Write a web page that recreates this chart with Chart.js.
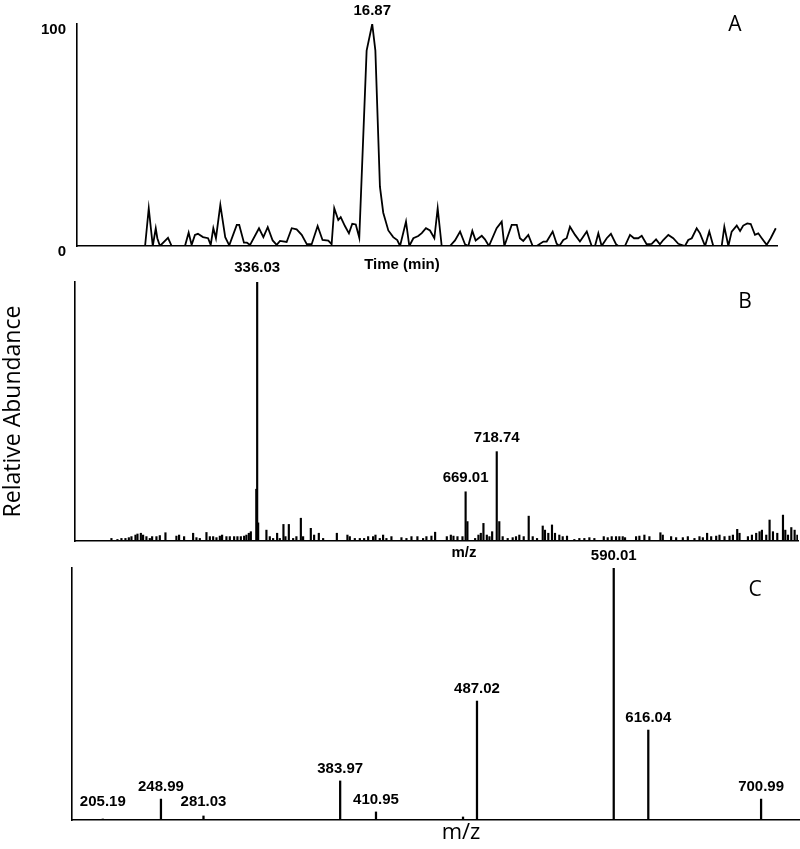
<!DOCTYPE html>
<html><head><meta charset="utf-8">
<script src="https://cdn.jsdelivr.net/npm/chart.js@4.4.1/dist/chart.umd.min.js"></script>
<style>
html,body{margin:0;padding:0;background:#fff;}
#wrap{position:relative;width:800px;height:849px;overflow:hidden;background:#fff;}
canvas{position:absolute;left:0;}
</style></head><body>
<div id="wrap">
<canvas id="cA" width="800" height="280" style="top:0px;width:800px;height:280px"></canvas>
<canvas id="cB" width="800" height="305" style="top:255px;width:800px;height:305px"></canvas>
<canvas id="cC" width="800" height="304" style="top:545px;width:800px;height:304px"></canvas>
</div>
<script>
// ---------- Panel A: chromatogram (time in min, relative intensity %) ----------
const aTime = [0, 3.89, 4.10, 4.33, 4.50, 4.59, 4.74, 5.20, 5.41, 6.17,
  6.38, 6.55, 6.74, 6.91, 7.20, 7.49, 7.64, 7.79, 7.94, 8.19,
  8.47, 8.70, 9.13, 9.27, 9.54, 9.71, 9.89, 10.40, 10.65, 10.90,
  11.18, 11.41, 11.60, 11.98, 12.27, 12.55, 12.84, 13.13, 13.41, 13.75,
  14.03, 14.36, 14.55, 14.70, 14.93, 15.07, 15.31, 15.54, 15.73, 15.93,
  16.13, 16.55, 16.87, 17.05, 17.31, 17.50, 17.79, 18.07, 18.30, 18.46,
  18.80, 18.99, 19.22, 19.50, 19.70, 19.94, 20.17, 20.42, 20.61, 20.84,
  21.31, 21.60, 21.89, 22.17, 22.36, 22.59, 22.78, 23.13, 23.31, 23.54,
  23.98, 24.27, 24.42, 24.84, 25.13, 25.31, 25.50, 25.79, 26.04, 26.27,
  26.65, 26.84, 27.18, 27.41, 27.56, 27.79, 27.98, 28.17, 28.46, 28.74,
  29.13, 29.41, 29.60, 29.79, 29.98, 30.27, 30.51, 30.80, 30.93, 31.31,
  31.60, 31.83, 32.07, 32.27, 32.55, 32.84, 33.09, 33.31, 33.50, 33.79,
  34.07, 34.36, 34.74, 34.93, 35.13, 35.41, 35.60, 35.89, 36.13, 36.36,
  36.84, 36.99, 37.22, 37.41, 37.70, 37.89, 38.07, 38.30, 38.50, 38.74,
  38.93, 39.13, 39.41, 39.64, 39.93];
const aIntensity = [0, 0, 17, 0, 8, 3.5, 0, 3.7, 0, 0,
  6, 0.5, 5, 5.5, 4, 3.5, 0.5, 8, 3.5, 18.5,
  4, 0.3, 9.5, 9.5, 1.5, 1.5, 0.5, 8, 4, 8.5,
  2.5, 0.5, 2.3, 1.8, 8, 7.5, 5, 0.8, 0.8, 9,
  2.7, 2.4, 0.8, 17, 11.7, 13, 9, 5.7, 10, 9.7,
  3.7, 88, 100, 88, 26.7, 15, 7, 4, 2.7, 0,
  11, 0, 3.5, 4.5, 5.8, 8, 7, 3.5, 17, 0,
  0, 2.5, 6.5, 0.8, 0, 6.8, 2.5, 4.6, 3, 0,
  8, 11, 0, 9.5, 9.5, 3.5, 2.3, 5, 0, 0,
  2, 2, 6.5, 1, 0, 2.7, 3.5, 8.7, 5, 2,
  6.5, 0, 0, 5.7, 0, 3.5, 5.5, 0.8, 0, 0,
  5, 3.5, 3.5, 4.6, 0.8, 1, 3, 0.8, 2.7, 5,
  3.5, 1, 0, 2.7, 3.5, 8, 5.7, 0, 6.5, 0,
  0, 8.7, 0, 6.5, 9.2, 6.8, 9.2, 10.2, 9.9, 5,
  5.7, 3.5, 0.5, 3.5, 8];
const aLabelled = [16.87];

// ---------- Panel B: full-scan mass spectrum ----------
const bMz = [103.2, 112.8, 119.2, 125.6, 131.0, 135.2, 141.6, 144.8, 150.2, 153.8,
  159.1, 164.5, 168.2, 175.1, 180.5, 189.5, 207.0, 211.3, 219.3, 233.7,
  239.0, 244.4, 255.0, 260.4, 265.7, 271.0, 276.4, 280.0, 286.9, 292.3,
  299.2, 304.5, 309.9, 315.2, 318.8, 322.7, 325.9, 334.6, 336.03, 337.6,
  350.8, 356.2, 361.5, 367.9, 372.2, 378.0, 381.2, 386.6, 393.5, 398.7,
  405.8, 409.4, 421.7, 427.0, 434.5, 441.4, 463.3, 480.2, 484.0, 492.0,
  500.0, 506.9, 513.3, 521.2, 525.0, 531.9, 537.2, 542.5, 550.5, 566.5,
  574.5, 582.5, 592.0, 601.1, 606.4, 614.4, 620.3, 639.0, 645.4, 649.6,
  656.0, 664.0, 669.01, 671.9, 684.2, 689.5, 693.3, 697.5, 702.9, 707.1,
  711.4, 718.74, 722.8, 728.2, 736.2, 744.2, 749.5, 754.8, 761.8, 769.8,
  776.2, 783.1, 792.2, 795.8, 801.1, 807.0, 811.8, 818.7, 824.1, 831.0,
  842.7, 850.7, 858.7, 866.7, 874.7, 889.7, 896.0, 902.4, 909.3, 914.6,
  920.0, 923.7, 941.3, 946.6, 954.6, 962.6, 980.2, 984.0, 997.3, 1005.3,
  1016.0, 1024.0, 1034.6, 1042.6, 1048.0, 1054.8, 1061.3, 1069.3, 1074.6, 1082.6,
  1090.6, 1096.0, 1102.9, 1106.6, 1120.0, 1126.4, 1133.2, 1138.6, 1142.4, 1149.3,
  1154.6, 1160.0, 1166.9, 1176.0, 1179.7, 1184.0, 1189.3, 1194.6, 1199.0];
const bIntensity = [1.0, 0.6, 1.0, 1.0, 1.3, 1.7, 2.3, 2.7, 3.0, 2.3,
  1.7, 1.0, 1.7, 1.7, 2.1, 3.2, 1.9, 2.3, 1.7, 3.0,
  1.3, 1.0, 3.3, 1.7, 1.7, 1.3, 1.9, 2.3, 1.7, 1.7,
  1.7, 1.7, 1.7, 1.9, 2.3, 3.0, 3.6, 20, 100, 7,
  4.2, 1.7, 1.0, 3.0, 1.0, 6.4, 1.7, 6.4, 1.0, 1.7,
  8.8, 1.7, 4.9, 2.3, 3.0, 1.0, 3.0, 2.3, 1.7, 1.0,
  1.0, 1.0, 1.7, 1.7, 2.3, 1.0, 2.3, 1.0, 1.7, 1.3,
  1.0, 1.7, 1.7, 1.0, 1.7, 1.9, 3.4, 1.7, 2.3, 1.9,
  1.7, 1.7, 19, 7.5, 1.0, 2.3, 3.0, 6.8, 2.3, 1.7,
  3.6, 34.5, 7.5, 1.7, 1.0, 1.3, 1.7, 2.3, 1.7, 9.6,
  1.7, 1.0, 5.8, 4.2, 3.0, 6.2, 3.0, 2.3, 1.7, 1.9,
  0.6, 1.0, 1.0, 1.3, 1.0, 1.7, 1.3, 1.7, 1.7, 1.7,
  1.7, 1.3, 1.7, 1.9, 2.3, 1.7, 3.2, 2.3, 1.7, 1.3,
  1.3, 1.7, 1.0, 1.7, 1.3, 3.0, 1.7, 1.9, 2.3, 1.7,
  1.9, 2.3, 4.5, 3.0, 1.7, 2.3, 3.0, 3.6, 4.2, 2.3,
  8.1, 3.6, 3.0, 10.0, 4.2, 2.3, 5.2, 4.2, 2.3];
const bLabelled = [336.03, 669.01, 718.74];

// ---------- Panel C: product-ion spectrum ----------
const cMz = [205.19, 248.99, 281.03, 383.97, 410.95, 476.5, 487.02, 590.01, 616.04, 700.99];
const cIntensity = [0.4, 8.3, 1.6, 15.5, 3.2, 1.2, 47.2, 100, 35.7, 8.3];
const cLabelled = [205.19, 248.99, 281.03, 383.97, 410.95, 487.02, 590.01, 616.04, 700.99];

// ---------- drawing helpers ----------
const LABEL_FONT = 'bold 15px "Liberation Sans", Arial, sans-serif';
const LETTER_FONT = '21px "Open Sans", sans-serif';
const panelText = {
  id: 'panelText',
  afterDraw(chart, args, o) {
    const ctx = chart.ctx, xs = chart.scales.x, ys = chart.scales.y;
    ctx.save();
    ctx.fillStyle = '#000'; ctx.textAlign = 'center'; ctx.textBaseline = 'middle';
    ctx.font = LABEL_FONT;
    const base = ys.getPixelForValue(0);
    (o.labels || []).forEach(l => {
      const px = xs.getPixelForValue(l.x);
      const py = Math.min(ys.getPixelForValue(l.y) - o.gap, base - o.floor);
      ctx.fillText(l.text, px, py);
    });
    (o.texts || []).forEach(t => { ctx.font = t.font; ctx.fillText(t.text, t.x, t.y); });
    ctx.restore();
  }
};
function labelsFrom(list, xs, ys) {
  return list.map(v => ({ x: v, y: ys[xs.indexOf(v)], text: v.toFixed(2) }));
}
const axisLine = { display: true, color: '#000', width: 1.6 };
const noGrid = { display: false, drawTicks: false };

// ---------- Chart A ----------
new Chart(document.getElementById('cA'), {
  type: 'line',
  data: { datasets: [{ data: aTime.map((t, i) => ({ x: t, y: aIntensity[i] })),
    borderColor: '#000', borderWidth: 1.8, pointRadius: 0, tension: 0, fill: false }] },
  options: {
    responsive: false, animation: false, devicePixelRatio: 1,
    layout: { padding: { top: 24, right: 23, bottom: 0, left: 0 } },
    plugins: { legend: { display: false }, tooltip: { enabled: false },
      panelText: { labels: labelsFrom(aLabelled, aTime, aIntensity), gap: 13, floor: 18,
        texts: [{ text: 'A', x: 735, y: 25, font: LETTER_FONT },
                { text: 'Time (min)', x: 402, y: 265, font: 'bold 15px "Liberation Sans", Arial, sans-serif' }] } },
    scales: {
      x: { type: 'linear', min: 0, max: 40, grid: noGrid, ticks: { display: false }, border: axisLine,
           afterFit: s => { s.height = 34; } },
      y: { min: 0, max: 100, grid: noGrid, border: axisLine,
           ticks: { stepSize: 100, padding: 11, labelOffset: 6, color: '#000',
                    font: { family: '"Liberation Sans", Arial, sans-serif', size: 15, weight: 'bold' } },
           afterFit: s => { s.width = 77; } }
    }
  },
  plugins: [panelText]
});

// ---------- Chart B ----------
new Chart(document.getElementById('cB'), {
  type: 'bar',
  data: { datasets: [{ data: bMz.map((m, i) => ({ x: m, y: bIntensity[i] })),
    backgroundColor: '#000', borderWidth: 0, barThickness: 1.5 }] },
  options: {
    responsive: false, animation: false, devicePixelRatio: 1,
    layout: { padding: { top: 27, right: 2, bottom: 0, left: 0 } },
    plugins: { legend: { display: false }, tooltip: { enabled: false },
      panelText: { labels: labelsFrom(bLabelled, bMz, bIntensity), gap: 14, floor: 18,
        texts: [{ text: 'B', x: 745, y: 47, font: LETTER_FONT },
                { text: 'm/z', x: 464, y: 298, font: 'bold 15px "Liberation Sans", Arial, sans-serif' }] } },
    scales: {
      x: { type: 'linear', min: 45, max: 1200, offset: false, grid: { display: false, drawTicks: false, offset: false },
           ticks: { display: false }, border: axisLine, afterFit: s => { s.height = 19; } },
      y: { min: 0, max: 100, grid: noGrid, border: axisLine, ticks: { display: false },
           title: { display: true, text: 'Relative Abundance', color: '#000', padding: 0,
                    font: { family: '"Open Sans", sans-serif', size: 23 } },
           afterFit: s => { s.width = 75; } }
    }
  },
  plugins: [panelText]
});

// ---------- Chart C ----------
new Chart(document.getElementById('cC'), {
  type: 'bar',
  data: { datasets: [{ data: cMz.map((m, i) => ({ x: m, y: cIntensity[i] })),
    backgroundColor: '#000', borderWidth: 0, barThickness: 1.6 }] },
  options: {
    responsive: false, animation: false, devicePixelRatio: 1,
    layout: { padding: { top: 23, right: 0, bottom: 0, left: 0 } },
    plugins: { legend: { display: false }, tooltip: { enabled: false },
      panelText: { labels: labelsFrom(cLabelled, cMz, cIntensity), gap: 12, floor: 18,
        texts: [{ text: 'C', x: 755, y: 45, font: LETTER_FONT },
                { text: 'm/z', x: 461, y: 288, font: '22px "Open Sans", sans-serif' }] } },
    scales: {
      x: { type: 'linear', min: 182, max: 730.3, offset: false, grid: { display: false, drawTicks: false, offset: false },
           ticks: { display: false }, border: axisLine, afterFit: s => { s.height = 29; } },
      y: { min: 0, max: 100, grid: noGrid, border: axisLine, ticks: { display: false },
           afterFit: s => { s.width = 72; } }
    }
  },
  plugins: [panelText]
});
</script>
</body></html>
